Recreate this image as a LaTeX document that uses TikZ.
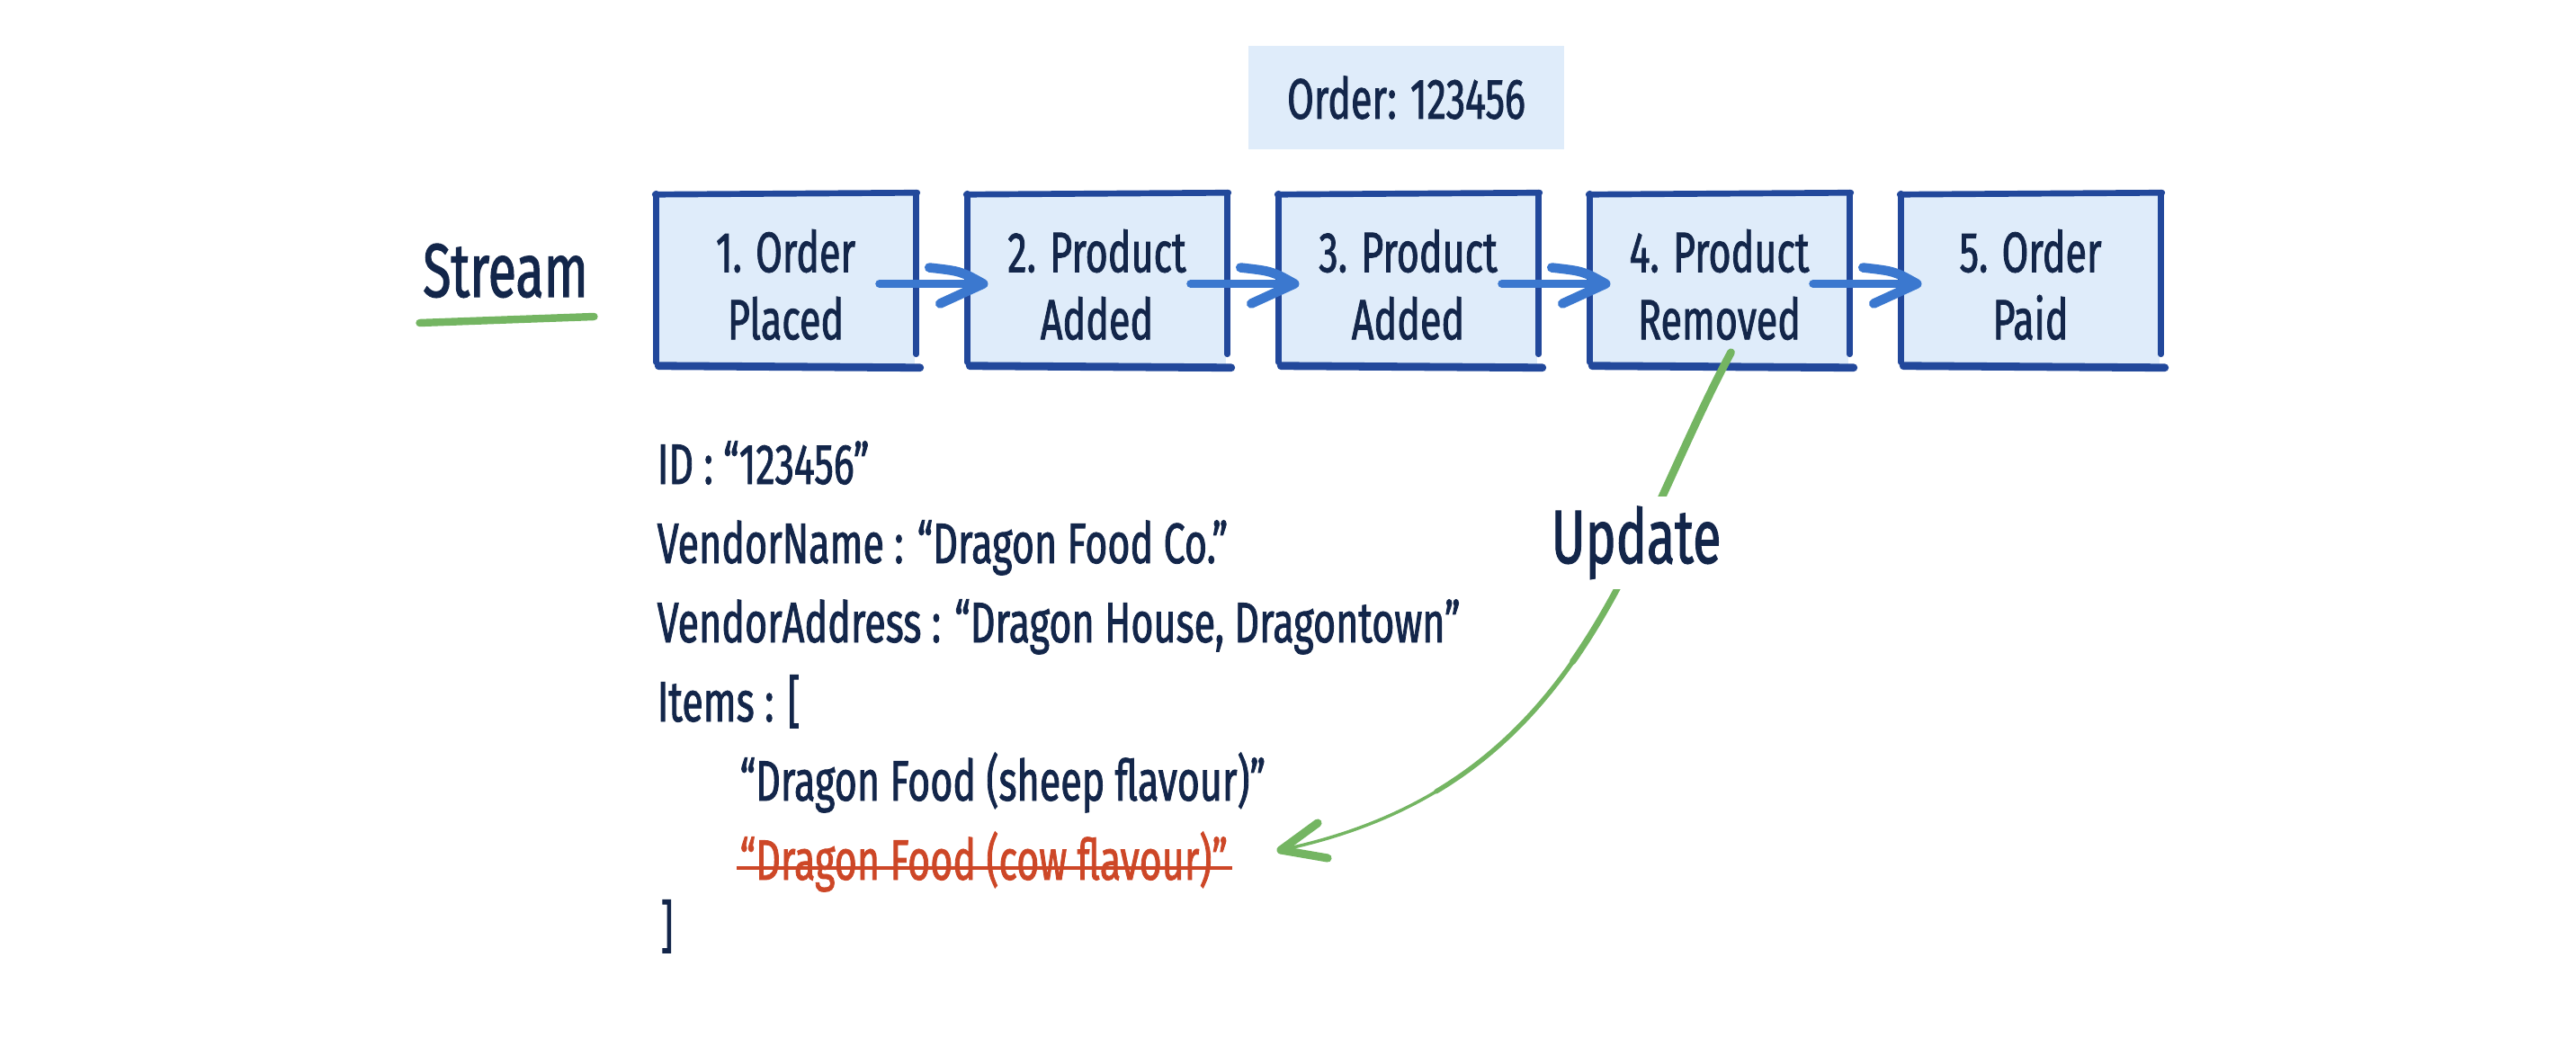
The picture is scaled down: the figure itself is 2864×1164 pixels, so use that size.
\documentclass[tikz,border=0pt]{standalone}
\usepackage{fontspec}
\usetikzlibrary{calc}
\newfontfamily\handfont[FakeStretch=0.68,FakeBold=1.3]{Fira Sans}
\definecolor{navy}{HTML}{13264A}
\definecolor{boxfill}{HTML}{DFECFA}
\definecolor{boxedge}{HTML}{22489B}
\definecolor{flowblue}{HTML}{3B78CF}
\definecolor{leafgreen}{HTML}{74B562}
\definecolor{strikered}{HTML}{CD4727}
\begin{document}
\begin{tikzpicture}[x=0.01cm,y=-0.01cm,
  hand/.style={font=\handfont\fontsize{18}{21.3}\selectfont, text=navy},
  bighand/.style={font=\handfont\fontsize{24}{28}\selectfont, text=navy},
  eventbox/.style={hand, fill=boxfill, inner sep=0pt, minimum width=2.87cm, minimum height=1.89cm, align=center},
  eventtext/.style={hand, inner sep=0pt, align=center},
  codeline/.style={hand, inner sep=0pt, anchor=base west},
  edgeline/.style={boxedge, line width=1.9pt, line cap=round},
  edgebottom/.style={boxedge, line width=2.5pt, line cap=round},
  flowline/.style={flowblue, line width=2.6pt, line cap=round},
  flowhead/.style={flowblue, line width=3pt, line cap=round, line join=round},
  greenline/.style={leafgreen, line cap=round},
  strikeline/.style={strikered, line width=1.2pt},
]
\useasboundingbox (0,0) rectangle (2864,1164);

% order label
\node[hand, fill=boxfill, minimum width=3.51cm, minimum height=1.15cm, inner sep=0pt] (order) at (1563.5,108.5) {Order: 123456};

% stream label
\node[bighand, inner sep=0pt, anchor=base] (stream) at (562,330) {Stream};
\draw[greenline, line width=2.4pt] ($(stream.base west)+(-3,29)$) -- ($(stream.base east)+(6,22)$);

% event boxes
\node[eventbox] (b1) at (873.5,310.5) {};
\node[eventbox] (b2) at (1219.5,310.5) {};
\node[eventbox] (b3) at (1565.5,310.5) {};
\node[eventbox] (b4) at (1911.5,310.5) {};
\node[eventbox] (b5) at (2257.5,310.5) {};
\node[eventtext] (t1) at ($(b1.center)+(0,6)$) {1. Order\\Placed};
\node[eventtext] (t2) at ($(b2.center)+(0,6)$) {2. Product\\Added};
\node[eventtext] (t3) at ($(b3.center)+(0,6)$) {3. Product\\Added};
\node[eventtext] (t4) at ($(b4.center)+(0,6)$) {4. Product\\Removed};
\node[eventtext] (t5) at ($(b5.center)+(0,6)$) {5. Order\\Paid};

\foreach \bx in {b1,b2,b3,b4,b5}{
  \draw[edgeline] ($(\bx.north west)+(-1,1)$) -- ($(\bx.north east)+(2,-1)$);
  \draw[edgeline] ($(\bx.north west)+(0,0)$) -- ($(\bx.south west)+(0,-3)$);
  \draw[edgeline] ($(\bx.north east)+(1,-1)$) -- ($(\bx.south east)+(1,-12)$);
  \draw[edgebottom] ($(\bx.south west)+(3,1)$) -- ($(\bx.south east)+(5,3)$);
}

\foreach \pa/\pb in {b1/b2,b2/b3,b3/b4,b4/b5}{
  \draw[flowline] ($(\pa.east)+(-40,5)$) -- ($(\pb.west)+(18,5)$) coordinate (t);
  \draw[flowhead] ($(t)+(-60,-18)$) .. controls ($(t)+(-25,-14)$) .. (t) -- ($(t)+(-48,22)$);
}

% code lines
\node[codeline] (id) at (730,538) {ID : “123456”};
\node[codeline] (vname) at (730,626) {VendorName : “Dragon Food Co.”};
\node[codeline] (vaddr) at (730,714) {VendorAddress : “Dragon House, Dragontown”};
\node[codeline] (items) at (730,802) {Items : [};
\node[codeline] (sheep) at (822,890) {“Dragon Food (sheep flavour)”};
\node[codeline, text=strikered] (cow) at (822,978) {“Dragon Food (cow flavour)”};
\node[codeline] (close) at (734,1052) {]};
\draw[strikeline] ($(cow.base west)+(-3,-13)$) -- ($(cow.base east)+(4,-13)$);

% update arrow
\coordinate (cs) at ($(b4.south)+(13,-14)$);
\coordinate (tip) at (1424,945);
\draw[greenline, line width=1pt] (cs) .. controls (1807,611) and (1760,875) .. (tip);
\draw[greenline, line width=1.5pt, dash pattern=on 170pt off 3000pt] (cs) .. controls (1807,611) and (1760,875) .. (tip);
\draw[greenline, line width=2pt, dash pattern=on 110pt off 3000pt] (cs) .. controls (1807,611) and (1760,875) .. (tip);
\draw[greenline, line width=2.5pt, dash pattern=on 55pt off 3000pt] (cs) .. controls (1807,611) and (1760,875) .. (tip);
\draw[greenline, line width=2.6pt, line join=round] ($(tip)+(41,-30)$) -- (tip) -- ($(tip)+(52,9)$);
\node[bighand, fill=white, inner xsep=2pt, inner ysep=3pt, anchor=base] (upd) at (1819,626) {Update};
\end{tikzpicture}
\end{document}
